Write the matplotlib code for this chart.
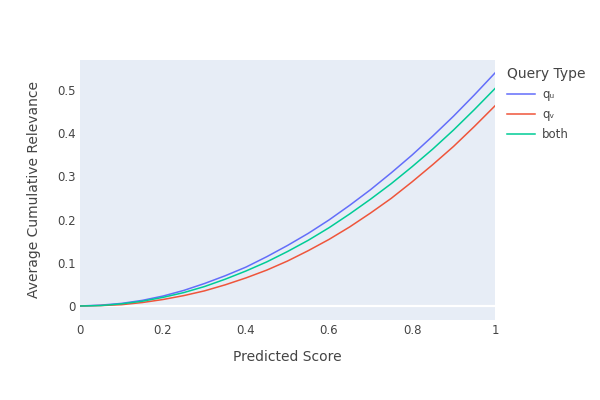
import matplotlib
matplotlib.use("Agg")
import matplotlib.pyplot as plt

plt.rcParams["font.family"] = ["DejaVu Sans"]

# datos
score = [0.0, 0.05, 0.1, 0.15, 0.2, 0.25, 0.3, 0.35, 0.4, 0.45, 0.5,
         0.55, 0.6, 0.65, 0.7, 0.75, 0.8, 0.85, 0.9, 0.95, 1.0]
rel_qu = [0.0, 0.002, 0.006, 0.013, 0.023, 0.036, 0.052, 0.070, 0.090, 0.114, 0.140,
          0.168, 0.199, 0.233, 0.269, 0.308, 0.349, 0.393, 0.439, 0.488, 0.539]
rel_qv = [0.0, 0.001, 0.003, 0.008, 0.015, 0.024, 0.035, 0.049, 0.065, 0.083, 0.104,
          0.128, 0.154, 0.183, 0.215, 0.249, 0.287, 0.327, 0.369, 0.415, 0.463]
rel_both = [0.0, 0.001, 0.005, 0.011, 0.020, 0.031, 0.045, 0.062, 0.081, 0.102, 0.126,
            0.152, 0.181, 0.213, 0.247, 0.283, 0.322, 0.363, 0.407, 0.454, 0.503]
series = [("qᵤ", rel_qu, "#636EFA"), ("qᵥ", rel_qv, "#EF553B"), ("both", rel_both, "#00CC96")]

txt = "#444444"

fig = plt.figure(figsize=(6, 4), dpi=100)
ax = fig.add_axes([80 / 600, 0.2, 415 / 600, 0.65])
ax.set_facecolor("#E7EDF6")

ax.axhline(0, color="white", linewidth=1.6, zorder=1)
for nombre, vals, col in series:
    ax.plot(score, vals, color=col, linewidth=1.1, label=nombre, zorder=2)

ax.set_xlim(0, 1)
ax.set_ylim(-0.0324, 0.569)
ax.set_xticks([0, 0.2, 0.4, 0.6, 0.8, 1])
ax.set_xticklabels(["0", "0.2", "0.4", "0.6", "0.8", "1"])
ax.set_yticks([0, 0.1, 0.2, 0.3, 0.4, 0.5])
ax.set_yticklabels(["0", "0.1", "0.2", "0.3", "0.4", "0.5"])
ax.tick_params(length=0, labelsize=8.5, colors=txt, pad=3)
for s in ax.spines.values():
    s.set_visible(False)

ax.set_xlabel("Predicted Score", fontsize=10, color=txt, labelpad=9)
ax.set_ylabel("Average Cumulative Relevance", fontsize=10, color=txt, labelpad=12)

leg = fig.legend(loc="upper left", bbox_to_anchor=(496 / 600, 1 - 56 / 400),
                 frameon=False, title="Query Type", fontsize=8.5,
                 title_fontsize=10, handlelength=2.4, handletextpad=0.6,
                 labelspacing=0.6, labelcolor=txt)
leg.get_title().set_color(txt)
leg._legend_box.align = "left"

plt.savefig("out.png", dpi=100)
